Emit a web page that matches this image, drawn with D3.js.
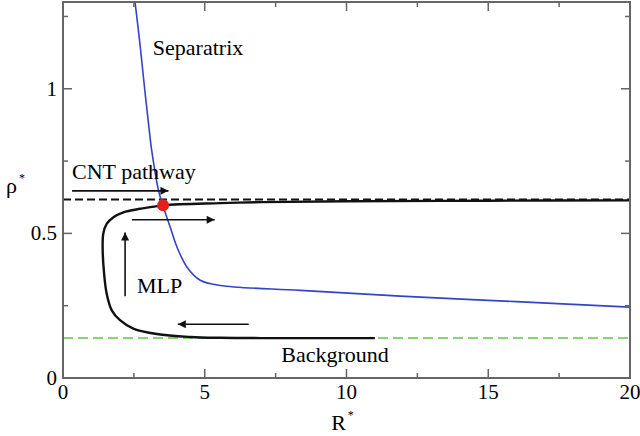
<!DOCTYPE html>
<html>
<head>
<meta charset="utf-8">
<script src="https://cdn.jsdelivr.net/npm/d3@7"></script>
<style>
  html, body { margin: 0; padding: 0; background: #fff; }
  svg { display: block; }
</style>
</head>
<body>
<svg id="chart" width="640" height="436"></svg>
<script>
// Axis ticks
const xMajorTicks = [0, 5, 10, 15, 20];
const xMinorTicks = [2.5, 7.5, 12.5, 17.5];
const yMajorTicks = [0, 0.5, 1];
const yMinorTicks = [0.25, 0.75, 1.25];

// Separatrix (R*, rho*)
const separatrixR   = [2.54, 2.72, 2.88, 3.05, 3.13, 3.37, 3.52, 3.78, 4.02, 4.37, 4.84, 5.55, 8.37, 11.9, 16, 20];
const separatrixRho = [1.30, 1.15, 1.00, 0.85, 0.786, 0.648, 0.597, 0.522, 0.453, 0.384, 0.338, 0.320, 0.303, 0.283, 0.264, 0.245];

// MLP trajectory (R*, rho*)
const mlpR   = [20, 15, 10, 7, 5.55, 3.54, 2.72, 2.13, 1.78, 1.54, 1.42, 1.40, 1.45, 1.54, 1.72, 2.01, 2.48, 3.31, 4.49, 5.55, 7, 11];
const mlpRho = [0.614, 0.613, 0.611, 0.608, 0.6045, 0.597, 0.585, 0.573, 0.556, 0.533, 0.499, 0.441, 0.361, 0.292, 0.234, 0.200, 0.171, 0.152, 0.142, 0.139, 0.138, 0.138];

// Reference levels
const cntLevel = 0.617;
const backgroundLevel = 0.138;

// Saddle point
const saddle = { R: 3.53, rho: 0.597 };

// Arrows: [R0, rho0, R1, rho1]
const arrows = [
  [0.32, 0.647, 3.72, 0.647],
  [2.43, 0.547, 5.35, 0.547],
  [2.19, 0.283, 2.19, 0.503],
  [6.55, 0.186, 4.05, 0.186]
];

// Annotations: [text, R, rho]
const labels = [
  ["Separatrix", 3.17, 1.117],
  ["CNT pathway", 0.32, 0.688],
  ["MLP", 2.61, 0.293],
  ["Background", 7.7, 0.055]
];

const serif = '"Liberation Serif"';
const margin = { left: 63, right: 10, top: 2, bottom: 58 };
const W = 640, H = 436;
const svg = d3.select("#chart");

const x = d3.scaleLinear().domain([0, 20]).range([margin.left, W - margin.right]);
const y = d3.scaleLinear().domain([0, 1.3]).range([H - margin.bottom, margin.top]);

const frameColor = "#666";

const defs = svg.append("defs");
defs.append("marker")
  .attr("id", "head")
  .attr("viewBox", "0 0 10 10")
  .attr("refX", 10).attr("refY", 5)
  .attr("markerWidth", 9).attr("markerHeight", 8)
  .attr("markerUnits", "userSpaceOnUse")
  .attr("orient", "auto")
  .append("path")
  .attr("d", "M0,0 L10,5 L0,10 z")
  .attr("fill", "#111");

const clip = defs.append("clipPath").attr("id", "plotclip");
clip.append("rect")
  .attr("x", x(0)).attr("y", y(1.3))
  .attr("width", x(20) - x(0)).attr("height", y(0) - y(1.3));

const plot = svg.append("g").attr("clip-path", "url(#plotclip)");

// Dashed reference levels
plot.append("line")
  .attr("x1", x(0)).attr("x2", x(20))
  .attr("y1", y(backgroundLevel)).attr("y2", y(backgroundLevel))
  .attr("stroke", "#86d66f").attr("stroke-width", 2)
  .attr("stroke-dasharray", "10,5");

plot.append("line")
  .attr("x1", x(0)).attr("x2", x(20))
  .attr("y1", y(cntLevel)).attr("y2", y(cntLevel))
  .attr("stroke", "#111").attr("stroke-width", 2)
  .attr("stroke-dasharray", "8,4");

const line = d3.line()
  .x(d => x(d[0])).y(d => y(d[1]))
  .curve(d3.curveCatmullRom.alpha(0.5));

// MLP trajectory
plot.append("path")
  .datum(mlpR.map((r, i) => [r, mlpRho[i]]))
  .attr("d", line)
  .attr("fill", "none")
  .attr("stroke", "#111")
  .attr("stroke-width", 2.4);

// Separatrix
plot.append("path")
  .datum(separatrixR.map((r, i) => [r, separatrixRho[i]]))
  .attr("d", line)
  .attr("fill", "none")
  .attr("stroke", "#3344c8")
  .attr("stroke-width", 1.6);

// Arrows
plot.selectAll("line.arrow")
  .data(arrows)
  .join("line")
  .attr("class", "arrow")
  .attr("x1", d => x(d[0])).attr("y1", d => y(d[1]))
  .attr("x2", d => x(d[2])).attr("y2", d => y(d[3]))
  .attr("stroke", "#111").attr("stroke-width", 1.6)
  .attr("marker-end", "url(#head)");

// Saddle point
plot.append("circle")
  .attr("cx", x(saddle.R)).attr("cy", y(saddle.rho))
  .attr("r", 6)
  .attr("fill", "#e3201b");

// Annotations
svg.selectAll("text.note")
  .data(labels)
  .join("text")
  .attr("class", "note")
  .attr("x", d => x(d[1])).attr("y", d => y(d[2]))
  .style("font-family", serif)
  .style("font-size", "22px")
  .attr("fill", "#000")
  .text(d => d[0]);

// Frame
svg.append("rect")
  .attr("x", x(0)).attr("y", y(1.3))
  .attr("width", x(20) - x(0)).attr("height", y(0) - y(1.3))
  .attr("fill", "none").attr("stroke", frameColor).attr("stroke-width", 2);

// Inward ticks on all four sides
function xTicks(vals, len) {
  vals.forEach(v => {
    svg.append("line").attr("x1", x(v)).attr("x2", x(v))
      .attr("y1", y(0)).attr("y2", y(0) - len)
      .attr("stroke", frameColor).attr("stroke-width", 1.5);
    svg.append("line").attr("x1", x(v)).attr("x2", x(v))
      .attr("y1", y(1.3)).attr("y2", y(1.3) + len)
      .attr("stroke", frameColor).attr("stroke-width", 1.5);
  });
}
function yTicks(vals, len) {
  vals.forEach(v => {
    svg.append("line").attr("x1", x(0)).attr("x2", x(0) + len)
      .attr("y1", y(v)).attr("y2", y(v))
      .attr("stroke", frameColor).attr("stroke-width", 1.5);
    svg.append("line").attr("x1", x(20)).attr("x2", x(20) - len)
      .attr("y1", y(v)).attr("y2", y(v))
      .attr("stroke", frameColor).attr("stroke-width", 1.5);
  });
}
xTicks(xMajorTicks.slice(1, -1), 9);
xTicks(xMinorTicks, 5);
yTicks(yMajorTicks.slice(1), 9);
yTicks(yMinorTicks, 5);

// Tick labels
svg.selectAll("text.xt")
  .data(xMajorTicks)
  .join("text")
  .attr("class", "xt")
  .attr("x", d => x(d)).attr("y", y(0) + 21)
  .attr("text-anchor", "middle")
  .style("font-family", serif)
  .style("font-size", "21px")
  .attr("fill", "#000")
  .text(d => d3.format("d")(d));

svg.selectAll("text.yt")
  .data(yMajorTicks)
  .join("text")
  .attr("class", "yt")
  .attr("x", x(0) - 6).attr("y", d => y(d) + 7)
  .attr("text-anchor", "end")
  .style("font-family", serif)
  .style("font-size", "21px")
  .attr("fill", "#000")
  .text(d => d === 0 ? "0" : d3.format("~g")(d));

// Axis titles
const xt = svg.append("text")
  .attr("x", x(10) - 4).attr("y", 430)
  .attr("text-anchor", "middle")
  .style("font-family", serif)
  .style("font-size", "22px")
  .attr("fill", "#000");
xt.append("tspan").text("R");
xt.append("tspan").attr("dy", -11).attr("dx", 2).style("font-size", "12px").text("*");

const yt = svg.append("text")
  .attr("x", 6).attr("y", 193)
  .style("font-family", serif)
  .style("font-size", "22px")
  .attr("fill", "#000");
yt.append("tspan").text("ρ");
yt.append("tspan").attr("dy", -11).attr("dx", 2).style("font-size", "12px").text("*");
</script>
</body>
</html>
